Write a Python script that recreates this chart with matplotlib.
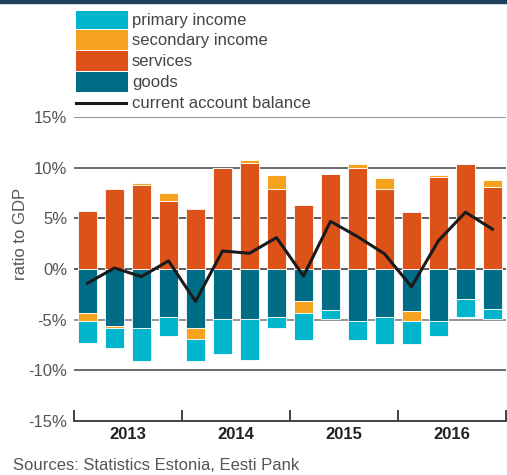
import matplotlib
matplotlib.use("Agg")
import matplotlib.pyplot as plt
from matplotlib.patches import Rectangle
from matplotlib.lines import Line2D
import numpy as np

plt.rcParams['font.family'] = ['Liberation Sans', 'DejaVu Sans']

# quarterly values, ratio to GDP (%), 2013 Q1 .. 2016 Q4
years = ['2013', '2014', '2015', '2016']
goods = [-4.3, -5.64, -5.87, -4.7, -5.87, -4.95, -4.95, -4.72,
         -3.17, -4.0, -5.15, -4.72, -4.16, -5.15, -2.97, -3.96]
services = [5.7, 7.9, 8.25, 6.73, 5.94, 9.97, 10.5, 7.9,
            6.34, 9.4, 9.93, 7.9, 5.6, 9.05, 10.33, 8.05]
secondary = [-0.8, -0.23, 0.2, 0.77, -0.99, 0.0, 0.25, 1.35,
             -1.22, 0.0, 0.43, 1.1, -0.99, 0.2, 0.0, 0.75]
primary = [-2.25, -1.93, -3.23, -1.9, -2.24, -3.4, -4.0, -1.15,
           -2.64, -0.95, -1.88, -2.64, -2.21, -1.48, -1.75, -0.99]
balance = [-1.4, 0.1, -0.75, 0.8, -3.2, 1.78, 1.55, 3.1,
           -0.7, 4.7, 3.2, 1.5, -1.75, 2.8, 5.6, 3.93]

c_primary = '#00b5cc'
c_secondary = '#f5a31f'
c_services = '#dc5218'
c_goods = '#006d86'
c_line = '#1a1a1a'

fig = plt.figure(figsize=(5.07, 4.75), dpi=100)
ax = fig.add_axes([74/507, 1-421/475, 432/507, 304/475])

x = np.arange(len(goods))
w = 0.74
goods = np.array(goods)
services = np.array(services)
secondary = np.array(secondary)
primary = np.array(primary)

# stack: positives go up from 0 (services, then secondary), negatives go down (goods, secondary, primary)
pos = np.zeros(len(x))
neg = np.zeros(len(x))
ekw = dict(width=w, edgecolor='white', linewidth=0.6, zorder=2)

ax.bar(x, goods, bottom=neg, color=c_goods, **ekw)
neg = neg + goods
ax.bar(x, services, bottom=pos, color=c_services, **ekw)
pos = pos + services

sec_b = np.where(secondary >= 0, pos, neg)
ax.bar(x, secondary, bottom=sec_b, color=c_secondary, **ekw)
pos = pos + np.clip(secondary, 0, None)
neg = neg + np.clip(secondary, None, 0)

pri_b = np.where(primary >= 0, pos, neg)
ax.bar(x, primary, bottom=pri_b, color=c_primary, **ekw)

ax.plot(x, balance, color=c_line, linewidth=2.2, zorder=3)

ax.set_xlim(-0.5, 15.5)
ax.set_ylim(-15, 15)
ax.set_yticks([-15, -10, -5, 0, 5, 10, 15])
ax.set_yticklabels(['-15%', '-10%', '-5%', '0%', '5%', '10%', '15%'])
for yv, gc in zip([-10, -5, 0, 5, 10, 15],
                  ['#444444', '#777777', '#333333', '#333333', '#444444', '#777777']):
    ax.axhline(yv, color=gc, linewidth=1.1, zorder=1)

for s in ['top', 'right', 'left']:
    ax.spines[s].set_visible(False)
ax.spines['bottom'].set_color('#333333')
ax.spines['bottom'].set_linewidth(1.3)

ax.tick_params(axis='y', length=0, labelsize=12, labelcolor='#555555', pad=5)
ax.set_xticks([-0.5, 3.5, 7.5, 11.5, 15.5])
ax.set_xticklabels([])
ax.tick_params(axis='x', which='major', direction='in', length=8, width=1.3, color='#333333')
ax.set_xticks([1.5, 5.5, 9.5, 13.5], minor=True)
ax.set_xticklabels(years, minor=True, fontweight='bold', fontsize=12, color='#222222')
ax.tick_params(axis='x', which='minor', length=0, pad=4)

ax.set_ylabel('ratio to GDP', fontsize=12, color='#555555')
ax.yaxis.set_label_coords(-0.107, 0.615)

# legend drawn by hand: tall swatches stacked with thin white gaps
def px(xp, yp):
    return xp / 507, 1 - yp / 475

swatches = [(c_primary, 'primary income', 11, 29),
            (c_secondary, 'secondary income', 30, 50),
            (c_services, 'services', 51, 71),
            (c_goods, 'goods', 72, 92)]
for col, lab, y0, y1 in swatches:
    x0, yb = px(76, y1)
    fig.add_artist(Rectangle((x0, yb), 52/507, (y1 - y0)/475,
                             transform=fig.transFigure, facecolor=col,
                             edgecolor='none'))
    tx, ty = px(132, (y0 + y1) / 2 + 1)
    fig.text(tx, ty, lab, fontsize=12, color='#444444', va='center')
lx0, ly = px(76, 103)
lx1, _ = px(126, 103)
fig.add_artist(Line2D([lx0, lx1], [ly, ly], transform=fig.transFigure,
                      color=c_line, linewidth=2.2))
tx, ty = px(132, 103)
fig.text(tx, ty, 'current account balance', fontsize=12, color='#444444', va='center')

fig.add_artist(Rectangle((0, 1-3/475), 1, 3/475, transform=fig.transFigure,
                         color='#1d3f5c'))
fig.text(13/507, 1-466/475, 'Sources: Statistics Estonia, Eesti Pank',
         fontsize=12, color='#555555', va='center')

fig.savefig('out.png', dpi=100)
